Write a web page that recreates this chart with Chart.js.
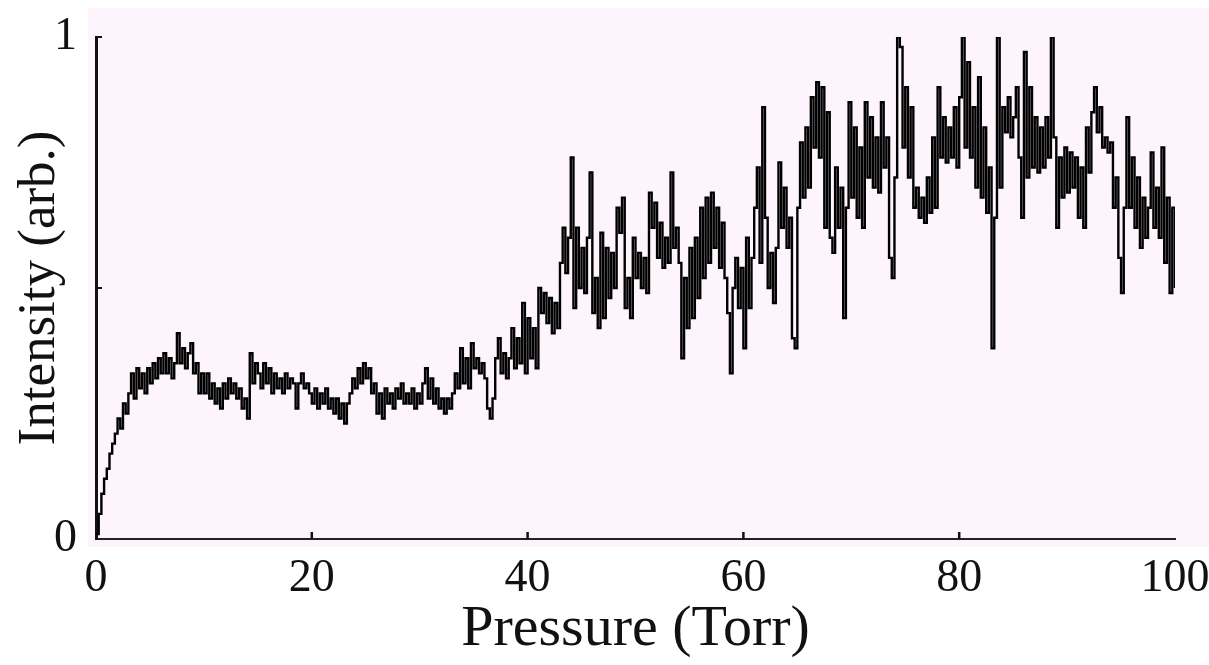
<!DOCTYPE html>
<html>
<head>
<meta charset="utf-8">
<title>Intensity vs Pressure</title>
<script src="https://cdn.jsdelivr.net/npm/chart.js@4.4.1/dist/chart.umd.min.js"></script>
<style>
  html, body { margin: 0; padding: 0; background: #ffffff; }
  #wrap { width: 1209px; height: 665px; }
</style>
</head>
<body>
<div id="wrap"><canvas id="chart" width="1209" height="665"></canvas></div>
<script>
const pressureStep = 0.25;
const intensity = [
  0.01,0.05,0.09,0.12,0.14,0.17,0.19,0.21,0.24,0.22,0.27,0.25,0.29,0.33,0.28,0.34,0.30,0.33,0.29,0.34,
  0.31,0.35,0.32,0.36,0.33,0.37,0.33,0.36,0.32,0.35,0.41,0.35,0.38,0.34,0.37,0.39,0.33,0.35,0.29,0.33,
  0.29,0.33,0.28,0.31,0.27,0.30,0.26,0.31,0.28,0.32,0.29,0.31,0.28,0.30,0.26,0.28,0.24,0.37,0.31,0.35,
  0.33,0.30,0.35,0.31,0.34,0.29,0.33,0.30,0.32,0.29,0.33,0.30,0.32,0.31,0.26,0.31,0.33,0.30,0.31,0.29,
  0.27,0.30,0.26,0.29,0.27,0.30,0.26,0.28,0.25,0.28,0.24,0.27,0.23,0.27,0.29,0.32,0.30,0.34,0.31,0.35,
  0.32,0.34,0.29,0.31,0.25,0.29,0.24,0.30,0.27,0.29,0.26,0.30,0.28,0.31,0.27,0.29,0.27,0.30,0.26,0.29,
  0.27,0.31,0.34,0.28,0.32,0.27,0.30,0.26,0.28,0.25,0.28,0.26,0.29,0.33,0.30,0.38,0.31,0.36,0.30,0.39,
  0.34,0.36,0.33,0.35,0.32,0.26,0.24,0.28,0.36,0.40,0.33,0.37,0.32,0.36,0.42,0.34,0.40,0.35,0.47,0.33,
  0.44,0.36,0.42,0.34,0.50,0.45,0.49,0.43,0.48,0.41,0.47,0.42,0.55,0.62,0.53,0.60,0.76,0.46,0.62,0.50,
  0.58,0.49,0.60,0.73,0.45,0.52,0.42,0.61,0.44,0.58,0.48,0.57,0.50,0.66,0.61,0.68,0.46,0.52,0.44,0.60,
  0.52,0.57,0.50,0.56,0.49,0.69,0.62,0.67,0.56,0.63,0.54,0.60,0.55,0.73,0.58,0.62,0.55,0.36,0.52,0.42,
  0.58,0.44,0.60,0.48,0.66,0.52,0.68,0.55,0.69,0.58,0.66,0.54,0.63,0.52,0.45,0.33,0.50,0.56,0.46,0.54,
  0.38,0.60,0.46,0.56,0.66,0.74,0.55,0.86,0.64,0.50,0.57,0.47,0.58,0.75,0.62,0.70,0.58,0.64,0.40,0.38,
  0.66,0.79,0.68,0.82,0.70,0.88,0.78,0.91,0.76,0.90,0.62,0.85,0.60,0.57,0.74,0.62,0.70,0.44,0.66,0.87,
  0.68,0.82,0.64,0.78,0.62,0.87,0.72,0.84,0.70,0.80,0.69,0.87,0.74,0.80,0.56,0.52,0.72,1.00,0.98,0.78,
  0.90,0.72,0.86,0.66,0.70,0.64,0.68,0.63,0.72,0.65,0.80,0.66,0.90,0.76,0.84,0.75,0.82,0.76,0.86,0.74,
  0.88,1.00,0.78,0.95,0.76,0.86,0.70,0.92,0.68,0.82,0.65,0.74,0.38,0.64,1.00,0.70,0.86,0.81,0.88,0.80,
  0.84,0.90,0.76,0.64,0.97,0.72,0.90,0.74,0.84,0.73,0.82,0.74,0.84,0.76,1.00,0.80,0.62,0.76,0.68,0.78,
  0.69,0.77,0.70,0.76,0.64,0.74,0.62,0.82,0.73,0.85,0.90,0.81,0.86,0.78,0.80,0.77,0.79,0.66,0.72,0.56,
  0.49,0.66,0.84,0.66,0.76,0.62,0.72,0.58,0.68,0.60,0.66,0.77,0.62,0.70,0.60,0.78,0.55,0.68,0.49,0.66,0.50
];
const xTickValues = [0, 20, 40, 60, 80, 100];
const yTickValues = [0, 0.5, 1];
const yTickLabels = ['0', '', '1'];

const points = intensity.map((v, i) => ({ x: i * pressureStep, y: v }));

// pink paper behind the plot and the small inward tick marks
const paperPlugin = {
  id: 'paper',
  beforeDraw(chart) {
    const { ctx, chartArea: a, width } = chart;
    ctx.save();
    ctx.fillStyle = '#fdf4fc';
    ctx.fillRect(a.left - 8, a.top - 29, width - a.left + 8, a.bottom - a.top + 37);
    ctx.restore();
  },
  afterDraw(chart) {
    const { ctx, chartArea: a, scales } = chart;
    ctx.save();
    ctx.strokeStyle = '#111';
    ctx.lineWidth = 2.5;
    xTickValues.forEach(v => {
      if (v === 0 || v === 100) return;
      const px = scales.x.getPixelForValue(v);
      ctx.beginPath();
      ctx.moveTo(px, a.bottom);
      ctx.lineTo(px, a.bottom - 7);
      ctx.stroke();
    });
    ctx.lineWidth = 2;
    yTickValues.forEach(v => {
      if (v === 0) return;
      const py = scales.y.getPixelForValue(v);
      ctx.beginPath();
      ctx.moveTo(a.left, py);
      ctx.lineTo(a.left + 6, py);
      ctx.stroke();
    });
    ctx.restore();
  }
};

const serif = 'Liberation Serif';

new Chart(document.getElementById('chart'), {
  type: 'line',
  data: {
    datasets: [{
      data: points,
      borderColor: '#000',
      borderWidth: 2.4,
      pointRadius: 0,
      stepped: true,
      fill: false
    }]
  },
  options: {
    responsive: false,
    animation: false,
    layout: { padding: { top: 37, right: 34, left: 0, bottom: 0 } },
    plugins: { legend: { display: false }, tooltip: { enabled: false } },
    scales: {
      x: {
        type: 'linear',
        min: 0,
        max: 100,
        afterFit(scale) {
          scale.height = 126;
          scale.paddingLeft = 0;
          scale.paddingRight = 0;
        },
        afterBuildTicks(scale) { scale.ticks = xTickValues.map(v => ({ value: v })); },
        grid: { display: false, drawTicks: false },
        border: { display: true, color: '#222', width: 2 },
        ticks: {
          padding: 12,
          color: '#111',
          font: { family: serif, size: 46 },
          maxRotation: 0,
          callback: v => String(v)
        },
        title: {
          display: true,
          text: 'Pressure (Torr)',
          color: '#111',
          font: { family: serif, size: 58 },
          padding: { top: 0, bottom: 0 }
        }
      },
      y: {
        type: 'linear',
        min: 0,
        max: 1,
        afterFit(scale) {
          scale.width = 96;
          scale.paddingTop = 0;
          scale.paddingBottom = 0;
        },
        afterBuildTicks(scale) { scale.ticks = yTickValues.map(v => ({ value: v })); },
        grid: { display: false, drawTicks: false },
        border: { display: true, color: '#111', width: 3 },
        ticks: {
          padding: 19,
          color: '#111',
          font: { family: serif, size: 46 },
          callback: v => yTickLabels[yTickValues.indexOf(v)]
        },
        title: {
          display: true,
          text: 'Intensity (arb.)',
          color: '#111',
          font: { family: serif, size: 53 },
          padding: { top: 8, bottom: 0 }
        }
      }
    }
  },
  plugins: [paperPlugin]
});
</script>
</body>
</html>
